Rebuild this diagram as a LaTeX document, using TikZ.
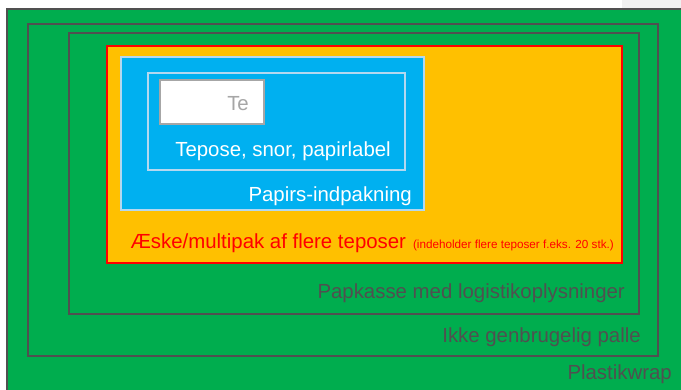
\documentclass[tikz,border=0pt]{standalone}
\usepackage{fontspec}
\setmainfont{Liberation Sans}
\definecolor{wrapgreen}{HTML}{00AD4E}
\definecolor{edgegray}{HTML}{505050}
\definecolor{boxorange}{HTML}{FFC000}
\definecolor{paperblue}{HTML}{00B0F0}
\definecolor{paleblue}{HTML}{B4D8F0}
\definecolor{labelgray}{HTML}{A6A6A6}
\tikzset{
    layer/.style={draw=edgegray, line width=2pt},
    lbl/.style={inner sep=0pt, anchor=base east, font=\fontsize{20.4}{24}\selectfont},
}

\begin{document}
\begin{tikzpicture}[x=1pt, y=-1pt]
    \useasboundingbox (0, 0) rectangle (681, 389);
    \clip (0, 0) rectangle (681, 389);
    \fill[black!6](622, 0)rectangle(681, 8);
    % plastikwrap, palle, papkasse
    \draw[layer, fill=wrapgreen](7, 9)rectangle(700, 400);
    \draw[layer](28, 24)rectangle(658, 356);
    \draw[layer](69, 33)rectangle(639, 314);
    % aeske
    \draw[draw=red, fill=boxorange, line width=2pt](107, 46)rectangle(622, 263);
    % papirs-indpakning
    \draw[draw=paleblue, fill=paperblue, line width=1.5pt](121, 57)rectangle(424, 210);
    \draw[draw=paleblue, line width=1.2pt](148, 73)rectangle(405, 170);
    \draw[draw=labelgray, fill=white, line width=2pt](160, 80)rectangle(264, 124);
    \node[lbl, text=labelgray] (te) at (249, 110) {Te};
    \node[lbl, text=white] (tepose) at (391, 156) {Tepose, snor, papirlabel};
    \node[lbl, text=white] (papirs) at (412, 201) {Papirs-indpakning};
    \node[lbl, text=red] (aeske) at (614, 248) {Æske/multipak af flere teposer\hspace{7pt}{\fontsize{11.7}{14}\selectfont(indeholder flere teposer f.eks. 20 stk.)}};
    \node[lbl, text=edgegray] (papkasse) at (625, 298) {Papkasse med logistikoplysninger};
    \node[lbl, text=edgegray] (palle) at (641, 342) {Ikke genbrugelig palle};
    \node[lbl, text=edgegray] (plastik) at (672, 379) {Plastikwrap};
\end{tikzpicture}
\end{document}
